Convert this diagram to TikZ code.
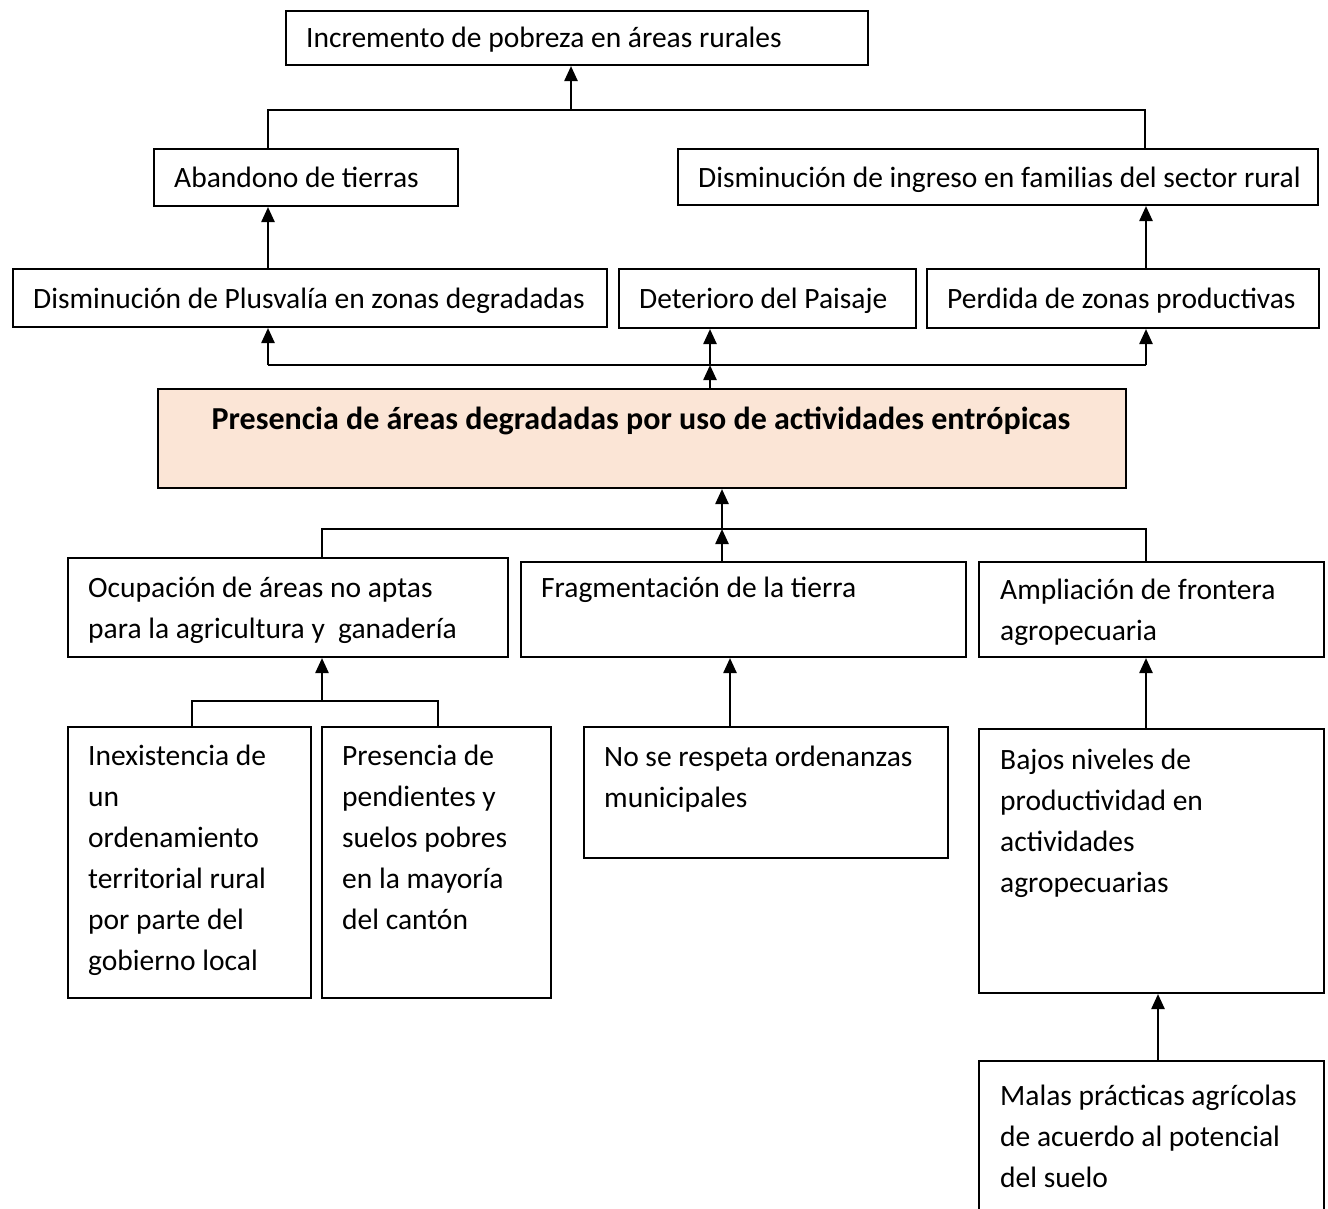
\documentclass[tikz,border=0pt]{standalone}
\usepackage{fontspec}
\setmainfont{Carlito}
\usetikzlibrary{arrows.meta}
\definecolor{peach}{HTML}{FBE5D6}
\tikzset{
  x=1pt, y=-1pt,
  box/.style={draw=black, line width=2pt, rectangle, anchor=north west, inner sep=0pt},
  txt/.style={anchor=base west, inner sep=0pt, align=left, font=\fontsize{29.5}{41}\selectfont},
  con/.style={line width=2.4pt},
  arr/.style={line width=2.4pt, -{Triangle[length=15pt,width=13pt]}}
}
\begin{document}
\begin{tikzpicture}
\useasboundingbox[fill=white] (0,0) rectangle (1328,1208);
% boxes
\node[box, minimum width=582, minimum height=54] (inc) at (285,10) {};
\node[box, minimum width=304, minimum height=57] (aba) at (153,148) {};
\node[box, minimum width=640, minimum height=56] (ing) at (677,148) {};
\node[box, minimum width=594, minimum height=58] (plu) at (12,268) {};
\node[box, minimum width=297, minimum height=59] (det) at (618,268) {};
\node[box, minimum width=392, minimum height=59] (per) at (926,268) {};
\node[box, fill=peach, minimum width=968, minimum height=99] (pre) at (157,388) {};
\node[box, minimum width=440, minimum height=99] (ocu) at (67,557) {};
\node[box, minimum width=445, minimum height=95] (fra) at (520,561) {};
\node[box, minimum width=345, minimum height=95] (amp) at (978,561) {};
\node[box, minimum width=243, minimum height=271] (ine) at (67,726) {};
\node[box, minimum width=229, minimum height=271] (pen) at (321,726) {};
\node[box, minimum width=364, minimum height=131] (res) at (583,726) {};
\node[box, minimum width=345, minimum height=264] (baj) at (978,728) {};
\node[box, minimum width=345, minimum height=170] (mal) at (978,1060) {};
% texts (anchor = baseline of last line)
\node[txt] (tinc) at (306,47) {Incremento de pobreza en áreas rurales};
\node[txt] (taba) at (174,187) {Abandono de tierras};
\node[txt] (ting) at (698,187) {Disminución de ingreso en familias del sector rural};
\node[txt] (tplu) at (33,308) {Disminución de Plusvalía en zonas degradadas};
\node[txt] (tdet) at (639,308) {Deterioro del Paisaje};
\node[txt] (tper) at (947,308) {Perdida de zonas productivas};
\node[txt, anchor=base, font=\fontsize{32}{41}\selectfont\bfseries] (tpre) at (641,429) {Presencia de áreas degradadas por uso de actividades entrópicas};
\node[txt] (tocu) at (88,638) {Ocupación de áreas no aptas\\para la agricultura y\ \ ganadería};
\node[txt] (tfra) at (541,597) {Fragmentación de la tierra};
\node[txt] (tamp) at (1000,640) {Ampliación de frontera\\agropecuaria};
\node[txt] (tine) at (88,970) {Inexistencia de\\un\\ordenamiento\\territorial rural\\por parte del\\gobierno local};
\node[txt] (tpen) at (342,929) {Presencia de\\pendientes y\\suelos pobres\\en la mayoría\\del cantón};
\node[txt] (tres) at (604,807) {No se respeta ordenanzas\\municipales};
\node[txt] (tbaj) at (1000,892) {Bajos niveles de\\productividad en\\actividades\\agropecuarias};
\node[txt] (tmal) at (1000,1187) {Malas prácticas agrícolas\\de acuerdo al potencial\\del suelo};
% junction coordinates
\coordinate (j1) at (571,110);
\coordinate (j2) at (710,365);
\coordinate (j3) at (722,529);
\coordinate (j4) at (322,701);
% top tier
\draw[con] (aba.north -| 268,0) |- (j1) -| (ing.north -| 1145,0);
\draw[arr] (j1) -- (inc.south -| j1);
\draw[arr] (plu.north -| 268,0) -- (aba.south -| 268,0);
\draw[arr] (per.north -| 1146,0) -- (ing.south -| 1146,0);
% main upward
\draw[arr] (pre.north -| j2) -- (j2);
\draw[con] (268,365) -- (1146,365);
\draw[arr] (268,365) -- (plu.south -| 268,0);
\draw[arr] (j2) -- (det.south -| j2);
\draw[arr] (1146,365) -- (per.south -| 1146,0);
% lower tier
\draw[con] (ocu.north -| 322,0) |- (j3) -| (amp.north -| 1146,0);
\draw[arr] (j3) -- (pre.south -| j3);
\draw[arr] (fra.north -| j3) -- (j3);
% bottom
\draw[con] (ine.north -| 192,0) |- (j4) -| (pen.north -| 438,0);
\draw[arr] (j4) -- (ocu.south -| j4);
\draw[arr] (res.north -| 730,0) -- (fra.south -| 730,0);
\draw[arr] (baj.north -| 1146,0) -- (amp.south -| 1146,0);
\draw[arr] (mal.north -| 1158,0) -- (baj.south -| 1158,0);
\end{tikzpicture}
\end{document}
